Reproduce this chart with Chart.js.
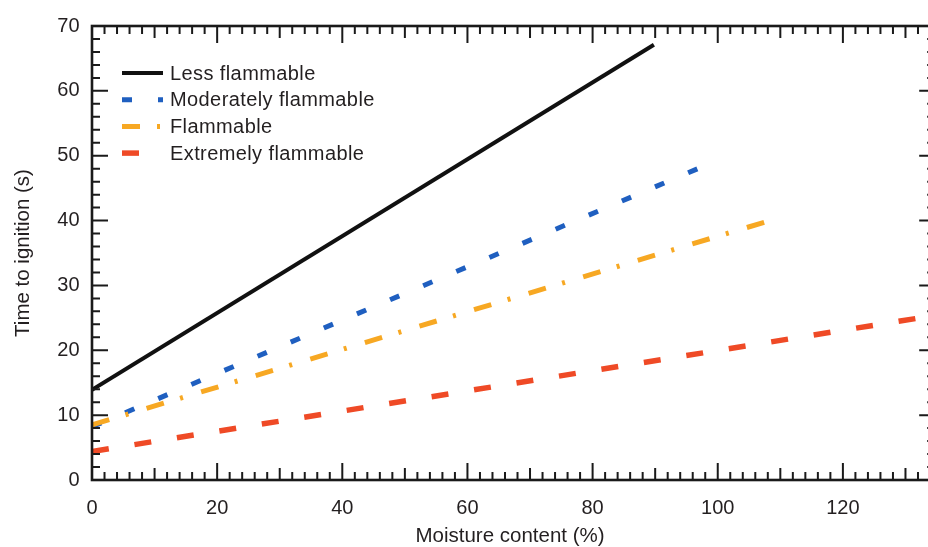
<!DOCTYPE html>
<html>
<head>
<meta charset="utf-8">
<script src="https://cdn.jsdelivr.net/npm/chart.js@4.4.1/dist/chart.umd.min.js"></script>
<style>
  html, body { margin: 0; padding: 0; background: #fff; }
</style>
</head>
<body>
<canvas id="chart" width="928" height="547"></canvas>
<script>
// values: moisture content (%) -> time to ignition (s)
const seriesLabels = ["Less flammable", "Moderately flammable", "Flammable", "Extremely flammable"]
const lessX = [0, 89.8]
const lessY = [13.9, 67.1]
const moderateX = [0, 98.5]
const moderateY = [8.2, 48.7]
const flammableX = [0, 109.7]
const flammableY = [8.5, 40.4]
const extremeX = [0, 133.6]
const extremeY = [4.4, 25.2]

const xTicks = [0, 20, 40, 60, 80, 100, 120]
const yTicks = [0, 10, 20, 30, 40, 50, 60, 70]

const textColor = "#231f20"
const fontFamily = "'Liberation Sans', Arial, Helvetica, sans-serif"

const toPoints = (xs, ys) => xs.map((x, i) => ({ x: x, y: ys[i] }))

// inward tick marks on all four sides plus the frame
const frameTicks = {
  id: "frameTicks",
  afterDatasetsDraw(chart) {
    const { ctx, chartArea: a, scales: { x, y } } = chart
    const rightEdge = x.getPixelForValue(134.75)
    ctx.save()
    ctx.strokeStyle = "#1a1a1a"
    ctx.lineWidth = 2
    ctx.beginPath()
    for (let v = 0; v <= 134; v += 2) {
      const px = x.getPixelForValue(v)
      const len = v % 20 === 0 ? 17 : v % 10 === 0 ? 12 : 8
      ctx.moveTo(px, a.bottom)
      ctx.lineTo(px, a.bottom - len)
      ctx.moveTo(px, a.top)
      ctx.lineTo(px, a.top + len)
    }
    for (let v = 0; v <= 70; v += 2) {
      const py = y.getPixelForValue(v)
      const len = v % 10 === 0 ? 16 : 8
      ctx.moveTo(a.left, py)
      ctx.lineTo(a.left + len, py)
      ctx.moveTo(rightEdge, py)
      ctx.lineTo(rightEdge - len, py)
    }
    ctx.stroke()
    ctx.lineWidth = 2.6
    ctx.strokeRect(a.left, a.top, rightEdge - a.left, a.bottom - a.top)
    ctx.restore()
  }
}

// legend sits inside the plot, top left
const insideLegend = {
  id: "insideLegend",
  afterDraw(chart) {
    const { ctx, chartArea: a } = chart
    ctx.save()
    ctx.font = "20px " + fontFamily
    ctx.letterSpacing = "0.4px"
    ctx.textBaseline = "middle"
    ctx.lineCap = "butt"
    chart.data.datasets.forEach((ds, i) => {
      const yy = a.top + 47 + i * 26.7
      ctx.strokeStyle = ds.borderColor
      ctx.lineWidth = ds.borderWidth
      ctx.setLineDash(ds.borderDash)
      ctx.beginPath()
      ctx.moveTo(a.left + 30, yy)
      ctx.lineTo(a.left + 71, yy)
      ctx.stroke()
      ctx.fillStyle = textColor
      ctx.fillText(ds.label, a.left + 78, yy + 1)
    })
    ctx.restore()
  }
}

const ctx = document.getElementById("chart").getContext("2d")

const chart = new Chart(ctx, {
  type: "line",
  data: {
    datasets: [
      {
        label: seriesLabels[0],
        data: toPoints(lessX, lessY),
        borderColor: "#111111",
        borderWidth: 4,
        borderDash: [],
        order: 0,
      },
      {
        label: seriesLabels[1],
        data: toPoints(moderateX, moderateY),
        borderColor: "#1f5fc0",
        borderWidth: 5,
        borderDash: [10, 26],
        order: 2,
      },
      {
        label: seriesLabels[2],
        data: toPoints(flammableX, flammableY),
        borderColor: "#f7a823",
        borderWidth: 5,
        borderDash: [18, 17, 3, 19],
        order: 1,
      },
      {
        label: seriesLabels[3],
        data: toPoints(extremeX, extremeY),
        borderColor: "#ef4a26",
        borderWidth: 5.5,
        borderDash: [17, 26],
        order: 3,
      },
    ],
  },
  options: {
    responsive: false,
    animation: false,
    devicePixelRatio: 1,
    layout: { padding: { top: 26, left: 0, right: 0, bottom: 0 } },
    elements: {
      point: { radius: 0 },
      line: { tension: 0, borderCapStyle: "butt" },
    },
    scales: {
      x: {
        type: "linear",
        min: 0,
        max: 133.6,
        afterBuildTicks: (s) => { s.ticks = xTicks.map((v) => ({ value: v })) },
        afterFit: (s) => { s.height = 67 },
        grid: { display: false, drawTicks: false },
        border: { display: false },
        ticks: {
          color: textColor,
          font: { family: fontFamily, size: 20 },
          padding: 16,
          maxRotation: 0,
          includeBounds: false,
        },
        title: {
          display: true,
          text: "Moisture content (%)",
          color: textColor,
          font: { family: fontFamily, size: 20.5, lineHeight: 1 },
          padding: { top: 0, bottom: 0 },
        },
      },
      y: {
        type: "linear",
        min: 0,
        max: 70,
        afterBuildTicks: (s) => { s.ticks = yTicks.map((v) => ({ value: v })) },
        afterFit: (s) => { s.width = 92 },
        grid: { display: false, drawTicks: false },
        border: { display: false },
        ticks: {
          color: textColor,
          font: { family: fontFamily, size: 20 },
          padding: 12.5,
        },
        title: {
          display: true,
          text: "Time to ignition (s)",
          color: textColor,
          font: { family: fontFamily, size: 20.5, lineHeight: 1 },
          padding: { top: 13, bottom: 0 },
        },
      },
    },
    plugins: {
      legend: { display: false },
      tooltip: { enabled: false },
    },
  },
  plugins: [frameTicks, insideLegend],
})
</script>
</body>
</html>
